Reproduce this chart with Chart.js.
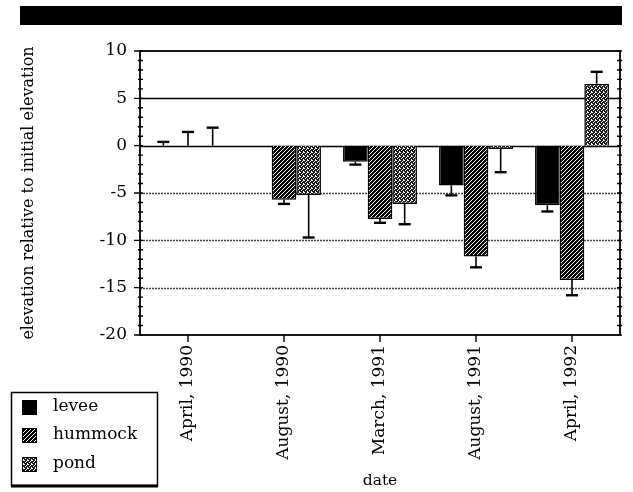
<!DOCTYPE html>
<html>
<head>
<meta charset="utf-8">
<script src="https://cdn.jsdelivr.net/npm/chart.js@4.4.1/dist/chart.umd.min.js"></script>
<style>
  body { margin: 0; background: #fff; }
  #wrap { position: relative; width: 633px; height: 492px; }
</style>
</head>
<body>
<div id="wrap"><canvas id="chart"></canvas></div>
<script>
const dates = ['April, 1990', 'August, 1990', 'March, 1991', 'August, 1991', 'April, 1992'];
const levee = [0, null, -1.7, -4.2, -6.3];
const leveeErr = [0.4, null, 0.3, 1.05, 0.65];
const hummock = [0, -5.7, -7.75, -11.7, -14.2];
const hummockErr = [1.45, 0.45, 0.4, 1.15, 1.6];
const pond = [0, -5.2, -6.15, -0.35, 6.55];
const pondErr = [1.9, 4.5, 2.15, 2.45, 1.25];
const seriesNames = ['levee', 'hummock', 'pond'];
const yTicks = [-20, -15, -10, -5, 0, 5, 10];

const FONT = "'DejaVu Serif', serif";
Chart.defaults.font.family = FONT;
Chart.defaults.color = '#000';

// fill patterns for the bars
function hatch() {
  const c = document.createElement('canvas');
  c.width = 4; c.height = 4;
  const g = c.getContext('2d');
  g.fillStyle = '#000'; g.fillRect(0, 0, 4, 4);
  g.strokeStyle = '#fff'; g.lineWidth = 1;
  g.beginPath();
  g.moveTo(-1, 5); g.lineTo(5, -1);
  g.moveTo(-1, 1); g.lineTo(1, -1);
  g.moveTo(3, 5); g.lineTo(5, 3);
  g.stroke();
  return g.createPattern(c, 'repeat');
}
function stipple() {
  const c = document.createElement('canvas');
  c.width = 4; c.height = 4;
  const g = c.getContext('2d');
  g.fillStyle = '#1a1a1a'; g.fillRect(0, 0, 4, 4);
  g.fillStyle = '#fff';
  [[0,0],[2,1],[1,2],[3,3],[3,0]].forEach(p => g.fillRect(p[0], p[1], 1, 1));
  return g.createPattern(c, 'repeat');
}
const fills = ['#000', hatch(), stipple()];
const errs = [leveeErr, hummockErr, pondErr];

const decor = {
  id: 'decor',
  beforeDraw(chart) {
    const ctx = chart.ctx;
    ctx.save();
    ctx.fillStyle = '#000';
    ctx.fillRect(20, 6, 602, 19);
    ctx.restore();
  },
  beforeDatasetsDraw(chart) {
    const { ctx, chartArea: a, scales: { y } } = chart;
    ctx.save();
    yTicks.forEach(v => {
      if (v <= -20 || v >= 10) return;
      const py = Math.round(y.getPixelForValue(v)) + 0.5;
      ctx.beginPath();
      if (v < 0) { ctx.setLineDash([2, 1]); ctx.strokeStyle = '#444'; ctx.lineWidth = 1.3; }
      else { ctx.setLineDash([]); ctx.strokeStyle = '#000'; ctx.lineWidth = 1.6; }
      ctx.moveTo(a.left, py); ctx.lineTo(a.right, py);
      ctx.stroke();
    });
    ctx.restore();
  },
  afterDatasetsDraw(chart) {
    const { ctx, chartArea: a, scales: { x, y } } = chart;
    ctx.save();
    ctx.strokeStyle = '#000';
    // error bars
    chart.data.datasets.forEach((ds, i) => {
      chart.getDatasetMeta(i).data.forEach((bar, j) => {
        const v = ds.data[j], e = errs[i][j];
        if (v == null || e == null) return;
        const end = v < 0 ? v - e : v + e;
        const y0 = y.getPixelForValue(v), y1 = y.getPixelForValue(end);
        ctx.lineWidth = 1.6;
        ctx.beginPath(); ctx.moveTo(bar.x, y0); ctx.lineTo(bar.x, y1); ctx.stroke();
        ctx.lineWidth = 2.4;
        ctx.beginPath(); ctx.moveTo(bar.x - 6, y1); ctx.lineTo(bar.x + 6, y1); ctx.stroke();
      });
    });
    // frame
    ctx.lineWidth = 1.8;
    ctx.strokeRect(a.left, a.top, a.right - a.left, a.bottom - a.top);
    // y ticks, minor every 1
    ctx.lineWidth = 1.4;
    for (let v = -20; v <= 10; v++) {
      const py = y.getPixelForValue(v);
      ctx.beginPath();
      if (v % 5 === 0) { ctx.moveTo(a.left - 6, py); ctx.lineTo(a.left + 3, py); }
      else { ctx.moveTo(a.left - 2, py); ctx.lineTo(a.left + 3, py); }
      ctx.moveTo(a.right - 3, py); ctx.lineTo(a.right + 2, py);
      ctx.stroke();
    }
    // x ticks under each date
    dates.forEach((d, j) => {
      const px = x.getPixelForValue(j);
      ctx.beginPath(); ctx.moveTo(px, a.bottom); ctx.lineTo(px, a.bottom + 7); ctx.stroke();
    });
    ctx.restore();
  },
  afterDraw(chart) {
    const ctx = chart.ctx;
    ctx.save();
    ctx.strokeStyle = '#000';
    ctx.lineWidth = 1.5;
    ctx.strokeRect(11.5, 392.5, 146, 93);
    ctx.lineWidth = 3;
    ctx.beginPath(); ctx.moveTo(11, 486); ctx.lineTo(158, 486); ctx.stroke();
    ctx.font = '17px ' + FONT;
    ctx.textBaseline = 'middle';
    const rows = [407, 435, 464];
    seriesNames.forEach((n, i) => {
      ctx.fillStyle = fills[i];
      ctx.fillRect(22, rows[i] - 7, 15, 15);
      ctx.lineWidth = 1;
      ctx.strokeRect(22.5, rows[i] - 6.5, 14, 14);
      ctx.fillStyle = '#000';
      ctx.fillText(n, 53, rows[i]);
    });
    ctx.restore();
  }
};

new Chart(document.getElementById('chart'), {
  type: 'bar',
  data: {
    labels: dates,
    datasets: [
      { label: seriesNames[0], data: levee },
      { label: seriesNames[1], data: hummock },
      { label: seriesNames[2], data: pond }
    ].map((d, i) => Object.assign(d, {
      backgroundColor: fills[i],
      borderColor: '#000',
      borderWidth: 1.5,
      barPercentage: 1,
      categoryPercentage: 0.77
    }))
  },
  options: {
    responsive: true,
    maintainAspectRatio: false,
    animation: false,
    layout: { padding: { top: 51, right: 13, left: 0, bottom: 0 } },
    plugins: { legend: { display: false }, tooltip: { enabled: false } },
    scales: {
      x: {
        grid: { display: false, drawTicks: false },
        border: { display: false },
        ticks: { font: { size: 17 }, minRotation: 90, maxRotation: 90, padding: 10 },
        title: { display: true, text: 'date', font: { size: 15.5 }, padding: { top: 0, bottom: 2 } },
        afterFit: s => { s.height = 157; }
      },
      y: {
        min: -20, max: 10,
        grid: { display: false, drawTicks: false },
        border: { display: false },
        afterBuildTicks: s => { s.ticks = yTicks.map(v => ({ value: v })); },
        ticks: { font: { size: 17 }, padding: 13 },
        title: { display: true, text: 'elevation relative to initial elevation', font: { size: 16 }, padding: { top: 19, bottom: 0 } },
        afterFit: s => { s.width = 140; }
      }
    }
  },
  plugins: [decor]
});
</script>
</body>
</html>
